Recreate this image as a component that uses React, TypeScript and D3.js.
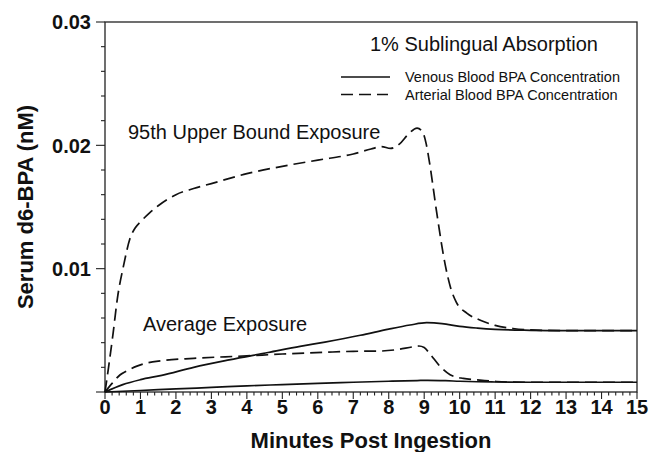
import React from "react";
import * as d3 from "d3";

// ---- data (minutes, nM) ----
const upperArterialT = [0, 0.1, 0.23, 0.35, 0.52, 0.7, 0.85, 1.0, 1.25, 1.5, 2.0, 2.5, 3.0, 4.0, 5.0, 6.0, 7.0, 7.5, 7.8, 8.05, 8.3, 8.55, 8.8, 8.95, 9.05, 9.15, 9.35, 9.6, 9.75, 9.9, 10.2, 10.6, 11.0, 11.5, 12.0, 13.0, 15.0];
const upperArterialV = [0, 0.0020, 0.0048, 0.0076, 0.0102, 0.0124, 0.0133, 0.0138, 0.0145, 0.0151, 0.0160, 0.0165, 0.0169, 0.0177, 0.0183, 0.0188, 0.0193, 0.0197, 0.0199, 0.01975, 0.0201, 0.0209, 0.0214, 0.0211, 0.0202, 0.0186, 0.0146, 0.0102, 0.0084, 0.0073, 0.0064, 0.0058, 0.0054, 0.00515, 0.00503, 0.00498, 0.00497];

const upperVenousT = [0, 0.5, 1.0, 1.6, 2.5, 3.5, 4.6, 5.5, 6.2, 7.2, 8.0, 8.6, 9.07, 9.5, 10.0, 10.5, 11.0, 12.0, 13.0, 15.0];
const upperVenousV = [0, 0.0006, 0.0010, 0.00135, 0.0020, 0.0026, 0.0032, 0.0037, 0.00405, 0.0046, 0.0051, 0.00543, 0.00562, 0.00555, 0.00532, 0.00518, 0.00508, 0.0050, 0.00497, 0.00497];

const avgArterialT = [0, 0.2, 0.42, 0.66, 0.9, 1.13, 1.6, 2.5, 4.0, 5.0, 6.2, 7.0, 7.75, 8.2, 8.7, 8.85, 9.0, 9.16, 9.44, 9.73, 10.1, 10.57, 11.04, 11.5, 12.0, 15.0];
const avgArterialV = [0, 0.0007, 0.00138, 0.00178, 0.0021, 0.00232, 0.00254, 0.00273, 0.00293, 0.00308, 0.00322, 0.0033, 0.00332, 0.00342, 0.00367, 0.00373, 0.0036, 0.0031, 0.0021, 0.0014, 0.0011, 0.00097, 0.00085, 0.0008, 0.00079, 0.00079];

const avgVenousT = [0, 1, 2, 3, 4, 5, 6, 7, 8, 8.8, 9.1, 9.6, 10.0, 10.5, 11.0, 12.0, 15.0];
const avgVenousV = [0, 0.00012, 0.00025, 0.00037, 0.0005, 0.0006, 0.0007, 0.00079, 0.00087, 0.00093, 0.00095, 0.00092, 0.00087, 0.00083, 0.00081, 0.00079, 0.00079];

const xTickLabels = ["0", "1", "2", "3", "4", "5", "6", "7", "8", "9", "10", "11", "12", "13", "14", "15"];
const yTickValues = [0.01, 0.02, 0.03];
const yTickLabels = ["0.01", "0.02", "0.03"];

const FONT = "'Liberation Sans', Arial, Helvetica, sans-serif";

export default function App() {
  const W = 650, H = 452;
  const x = d3.scaleLinear().domain([0, 15]).range([105, 637]);
  const y = d3.scaleLinear().domain([0, 0.03]).range([392, 22]);
  const line = d3
    .line<[number, number]>()
    .x((d) => x(d[0]))
    .y((d) => y(d[1]))
    .curve(d3.curveMonotoneX);
  const zip = (t: number[], v: number[]) => t.map((tt, i) => [tt, v[i]] as [number, number]);

  const xMinor = d3.range(0, 15.0001, 0.2);
  const yMinor = d3.range(0, 0.03001, 0.002);

  const series = [
    { d: zip(upperArterialT, upperArterialV), dash: "12,6" },
    { d: zip(upperVenousT, upperVenousV), dash: null },
    { d: zip(avgArterialT, avgArterialV), dash: "12,6" },
    { d: zip(avgVenousT, avgVenousV), dash: null },
  ];

  return (
    <svg
      width={W}
      height={H}
      style={{ position: "absolute", left: 0, top: 0, background: "#fff" }}
      fontFamily={FONT}
    >
      <rect x={0} y={0} width={W} height={H} fill="#fff" />
      {/* frame */}
      <rect x={x(0)} y={y(0.03)} width={x(15) - x(0)} height={y(0) - y(0.03)} fill="none" stroke="#222" strokeWidth={1.3} />
      {/* y ticks */}
      {yMinor.map((v, i) => {
        const major = i % 5 === 0;
        return <line key={"ym" + i} x1={x(0) - (major ? 9 : 4)} x2={x(0)} y1={y(v)} y2={y(v)} stroke="#222" strokeWidth={1.1} />;
      })}
      {yTickValues.map((v, i) => (
        <text key={"yl" + i} x={91} y={y(v)} dy="0.36em" textAnchor="end" fontSize={20} fontWeight="bold" fill="#111">
          {yTickLabels[i]}
        </text>
      ))}
      {/* x ticks */}
      {xMinor.map((v, i) => {
        const major = i % 5 === 0;
        return <line key={"xm" + i} x1={x(v)} x2={x(v)} y1={y(0)} y2={y(0) + (major ? 7 : 3.5)} stroke="#222" strokeWidth={1.1} />;
      })}
      {xTickLabels.map((l, i) => (
        <text key={"xl" + i} x={x(i)} y={414} textAnchor="middle" fontSize={20} fontWeight="bold" fill="#111">
          {l}
        </text>
      ))}
      {/* axis titles */}
      <text x={(x(0) + x(15)) / 2} y={448} textAnchor="middle" fontSize={22} fontWeight="bold" fill="#111">
        Minutes Post Ingestion
      </text>
      <text transform={`translate(33,${(y(0) + y(0.03)) / 2}) rotate(-90)`} textAnchor="middle" fontSize={22} fontWeight="bold" fill="#111">
        Serum d6-BPA (nM)
      </text>
      {/* data lines */}
      {series.map((s, i) => (
        <path key={"s" + i} d={line(s.d) || ""} fill="none" stroke="#111" strokeWidth={1.7} strokeDasharray={s.dash || undefined} />
      ))}
      {/* annotations */}
      <text x={370} y={51} fontSize={20} fill="#111">1% Sublingual Absorption</text>
      <line x1={341} x2={390} y1={77} y2={77} stroke="#111" strokeWidth={1.6} />
      <text x={405} y={82} fontSize={14.5} fill="#111">Venous Blood BPA Concentration</text>
      <line x1={341} x2={388} y1={94.5} y2={94.5} stroke="#111" strokeWidth={1.6} strokeDasharray="12,6" />
      <text x={405} y={100} fontSize={14.5} fill="#111">Arterial Blood BPA Concentration</text>
      <text x={128} y={139} fontSize={20} fill="#111">95th Upper Bound Exposure</text>
      <text x={143} y={331} fontSize={20} fill="#111">Average Exposure</text>
    </svg>
  );
}
